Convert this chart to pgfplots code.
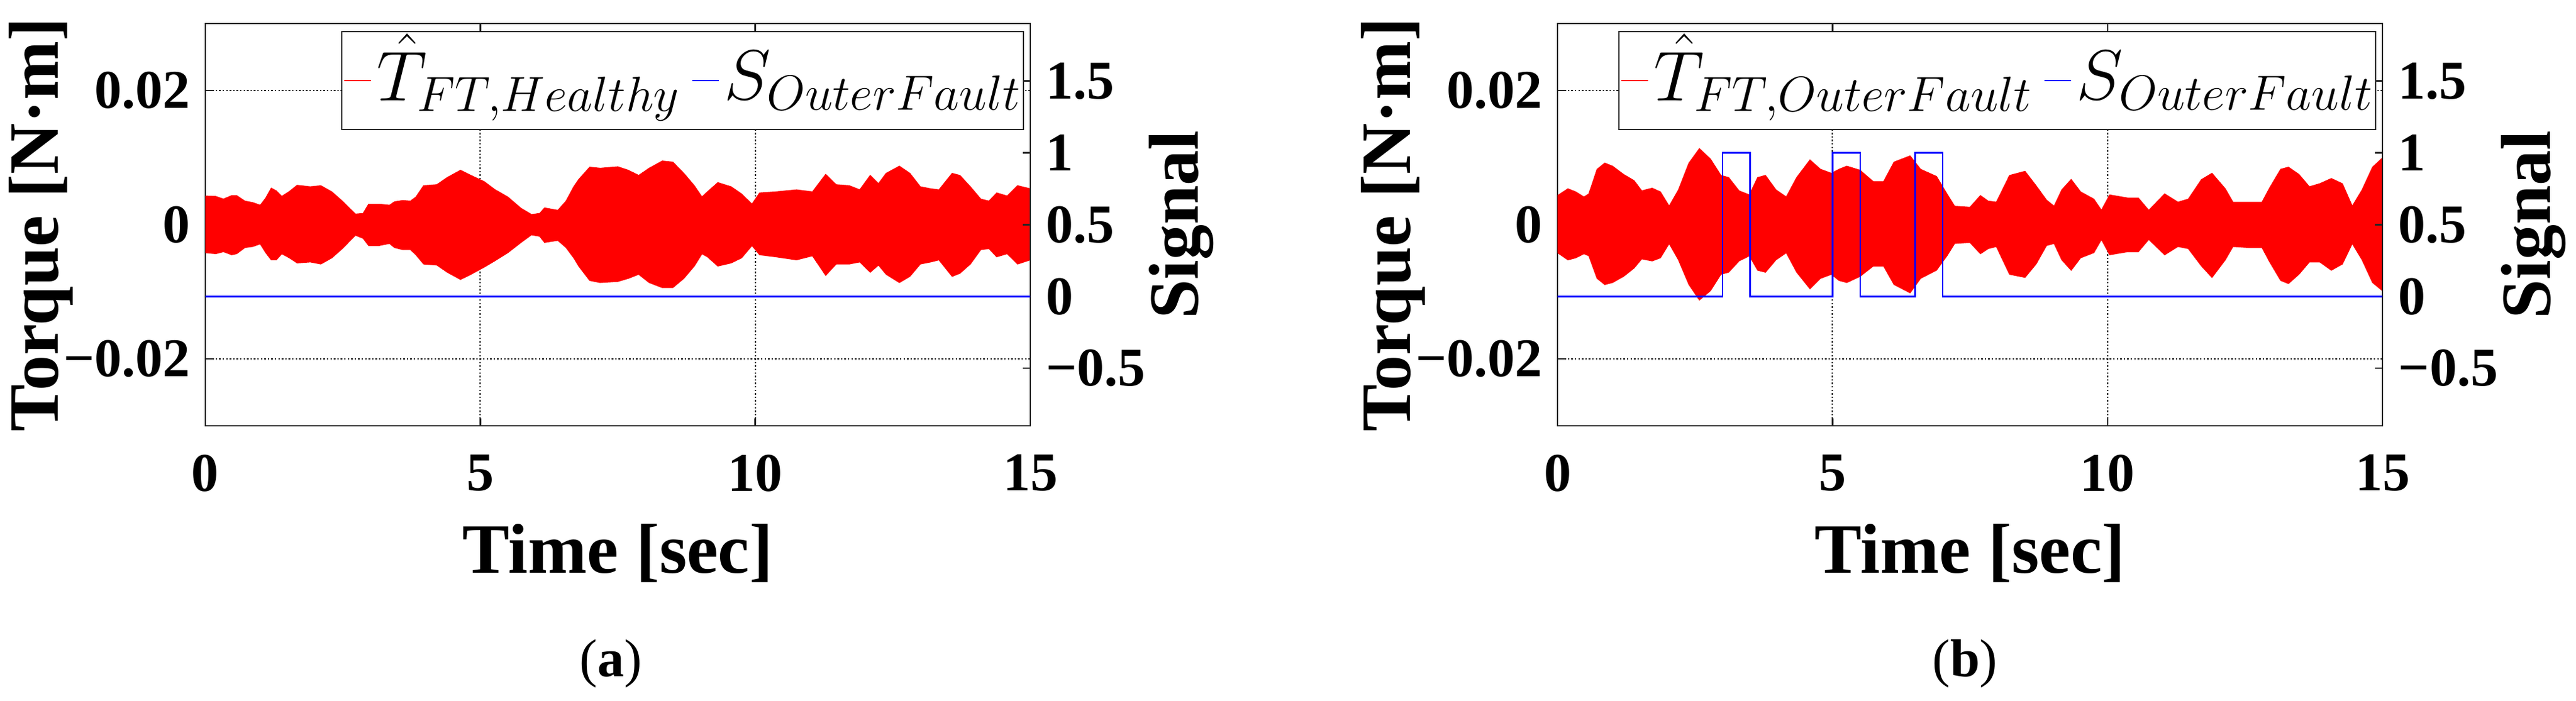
\RequirePackage{fix-cm}
\documentclass[border=0pt]{standalone}
\usepackage{fontspec}
\setmainfont{Liberation Serif}
\usepackage{pgfplots}
\pgfplotsset{compat=1.18}
\usepackage{pgfplotstable}

\newcommand{\tickfont}{\fontsize{22}{22}\selectfont\bfseries}
\newcommand{\labfont}{\fontsize{28.5}{28.5}\selectfont\bfseries}
\newcommand{\legfont}{\fontsize{28.5}{28.5}\selectfont}
\newcommand{\legstrut}{\rule[-11pt]{0pt}{37pt}}
\definecolor{axgray}{gray}{0.15}

% envelope of the torque band in (a): upper edge forward in time, lower edge backward
\pgfplotstableread{
t v
0 0.00426
0.19 0.00420
0.33 0.00380
0.48 0.00432
0.57 0.00432
0.72 0.00350
0.86 0.00328
1.0 0.00288
1.1 0.00396
1.2 0.00543
1.29 0.00503
1.39 0.00420
1.53 0.00494
1.67 0.00586
1.91 0.00564
2.1 0.00580
2.3 0.00488
2.49 0.00350
2.73 0.00156
2.87 0.00166
2.97 0.00304
3.16 0.00304
3.35 0.00288
3.44 0.00340
3.59 0.00359
3.73 0.00350
3.83 0.00411
3.97 0.00580
4.21 0.00595
4.4 0.00702
4.64 0.00810
4.83 0.00733
5.07 0.00641
5.26 0.00524
5.5 0.00411
5.74 0.00242
5.93 0.00150
6.08 0.00166
6.17 0.00248
6.41 0.00212
6.56 0.00350
6.7 0.00564
6.79 0.00672
6.99 0.00856
7.18 0.00840
7.5 0.00862
7.69 0.00810
7.88 0.00733
8.07 0.00840
8.31 0.00948
8.5 0.00932
8.7 0.00764
8.89 0.00580
9.03 0.00411
9.13 0.00488
9.32 0.00626
9.56 0.00564
9.75 0.00457
9.94 0.00304
10.08 0.00472
10.37 0.00488
10.75 0.00518
11.04 0.00488
11.28 0.00748
11.47 0.00595
11.71 0.00580
11.9 0.00518
12.09 0.00733
12.24 0.00610
12.38 0.00764
12.62 0.00871
12.81 0.00764
13.0 0.00564
13.19 0.00534
13.34 0.00518
13.58 0.00764
13.72 0.00733
13.91 0.00564
14.1 0.00380
14.25 0.00350
14.39 0.00472
14.58 0.00426
14.77 0.00580
15.0 0.00534
15.0 -0.00524
14.77 -0.00586
14.58 -0.00432
14.39 -0.00478
14.25 -0.00356
14.1 -0.00371
13.91 -0.00586
13.72 -0.00724
13.58 -0.00770
13.34 -0.00524
13.19 -0.00555
13.0 -0.00586
12.81 -0.00770
12.62 -0.00862
12.38 -0.00739
12.24 -0.00601
12.09 -0.00708
11.9 -0.00555
11.71 -0.00586
11.47 -0.00586
11.28 -0.00754
11.04 -0.00463
10.75 -0.00524
10.37 -0.00478
10.08 -0.00448
9.94 -0.00310
9.75 -0.00494
9.56 -0.00570
9.32 -0.00616
9.13 -0.00478
9.03 -0.00432
8.89 -0.00616
8.7 -0.00800
8.5 -0.00938
8.31 -0.00938
8.07 -0.00862
7.88 -0.00739
7.69 -0.00800
7.5 -0.00846
7.18 -0.00862
6.99 -0.00831
6.79 -0.00616
6.7 -0.00494
6.56 -0.00340
6.41 -0.00233
6.17 -0.00264
6.08 -0.00172
5.93 -0.00150
5.74 -0.00264
5.5 -0.00417
5.26 -0.00540
5.07 -0.00632
4.83 -0.00739
4.64 -0.00816
4.4 -0.00708
4.21 -0.00601
3.97 -0.00586
3.83 -0.00448
3.73 -0.00371
3.59 -0.00371
3.44 -0.00340
3.35 -0.00279
3.16 -0.00310
2.97 -0.00310
2.87 -0.00202
2.73 -0.00156
2.49 -0.00356
2.3 -0.00494
2.1 -0.00586
1.91 -0.00555
1.67 -0.00570
1.53 -0.00494
1.39 -0.00432
1.29 -0.00524
1.2 -0.00524
1.1 -0.00417
1.0 -0.00285
0.86 -0.00325
0.72 -0.00340
0.57 -0.00432
0.48 -0.00448
0.33 -0.00402
0.19 -0.00432
0 -0.00417
}\polyA

% envelope of the torque band in (b)
\pgfplotstableread{
t v
0 0.00432
0.19 0.00534
0.33 0.00488
0.48 0.00411
0.57 0.00457
0.72 0.00825
0.86 0.00917
1.0 0.00871
1.2 0.00748
1.39 0.00656
1.53 0.00503
1.72 0.00543
1.87 0.00488
2.03 0.00273
2.2 0.00518
2.39 0.00917
2.58 0.01132
2.78 0.00978
2.97 0.00733
3.11 0.00702
3.3 0.00503
3.49 0.00442
3.64 0.00702
3.78 0.00733
3.97 0.00518
4.16 0.00411
4.35 0.00702
4.59 0.00963
4.78 0.00825
4.98 0.00764
5.12 0.00825
5.26 0.00871
5.5 0.00810
5.74 0.00641
5.93 0.00641
6.12 0.00932
6.41 0.01024
6.6 0.00825
6.89 0.00718
7.08 0.00457
7.22 0.00273
7.5 0.00258
7.69 0.00432
7.83 0.00350
7.98 0.00334
8.22 0.00733
8.5 0.00794
8.7 0.00580
8.89 0.00365
9.03 0.00273
9.17 0.00518
9.34 0.00672
9.51 0.00488
9.75 0.00380
9.89 0.00212
10.04 0.00442
10.37 0.00396
10.56 0.00396
10.75 0.00212
11.04 0.00457
11.28 0.00334
11.47 0.00380
11.71 0.00672
11.9 0.00764
12.14 0.00534
12.28 0.00334
12.57 0.00334
12.81 0.00334
12.95 0.00549
13.15 0.00825
13.29 0.00856
13.48 0.00748
13.67 0.00564
13.86 0.00610
14.07 0.00687
14.27 0.00610
14.45 0.00273
14.63 0.00518
14.82 0.00856
15.0 0.00994
15.0 -0.00984
14.82 -0.00862
14.63 -0.00524
14.45 -0.00279
14.27 -0.00586
14.07 -0.00678
13.86 -0.00555
13.67 -0.00555
13.48 -0.00739
13.29 -0.00877
13.15 -0.00831
12.95 -0.00555
12.81 -0.00340
12.57 -0.00340
12.28 -0.00325
12.14 -0.00524
11.9 -0.00785
11.71 -0.00616
11.47 -0.00356
11.28 -0.00325
11.04 -0.00448
10.75 -0.00218
10.56 -0.00402
10.37 -0.00402
10.04 -0.00448
9.89 -0.00218
9.75 -0.00417
9.51 -0.00494
9.34 -0.00678
9.17 -0.00524
9.03 -0.00279
8.89 -0.00310
8.7 -0.00586
8.5 -0.00785
8.22 -0.00739
7.98 -0.00325
7.83 -0.00356
7.69 -0.00432
7.5 -0.00264
7.22 -0.00279
7.08 -0.00463
6.89 -0.00678
6.6 -0.00800
6.41 -0.01015
6.12 -0.00892
5.93 -0.00616
5.74 -0.00616
5.5 -0.00770
5.26 -0.00862
5.12 -0.00831
4.98 -0.00739
4.78 -0.00800
4.59 -0.00954
4.35 -0.00708
4.16 -0.00417
3.97 -0.00524
3.78 -0.00708
3.64 -0.00678
3.49 -0.00463
3.3 -0.00540
3.11 -0.00708
2.97 -0.00739
2.78 -0.00984
2.58 -0.01122
2.39 -0.00892
2.2 -0.00524
2.03 -0.00279
1.87 -0.00494
1.72 -0.00540
1.53 -0.00509
1.39 -0.00647
1.2 -0.00770
1.0 -0.00862
0.86 -0.00892
0.72 -0.00800
0.57 -0.00463
0.48 -0.00432
0.33 -0.00494
0.19 -0.00524
0 -0.00417
}\polyB

\pgfplotsset{
  common/.style={
    scale only axis, width=332.5pt, height=162.25pt,
    anchor=south west,
    xmin=0, xmax=15,
    scaled ticks=false,
    tick align=inside, major tick length=3pt,
    axis line style={axgray, line width=0.7pt},
    every tick/.style={axgray, line width=0.6pt},
    tick label style={font=\tickfont, inner sep=0pt},
  },
  leftax/.style={
    common,
    ymin=-0.03, ymax=0.03,
    xtick={0,5,10,15}, xticklabels={0,5,10,15},
    ytick={-0.02,0,0.02}, yticklabels={−0.02,0,0.02},
    ytick pos=left, yticklabel pos=left,
    xticklabel style={anchor=north, yshift=-11.5pt},
    yticklabel style={anchor=east, xshift=-6pt},
    grid=major,
    grid style={black, line width=0.55pt, dash pattern=on 0.6pt off 0.8pt},
    xlabel={Time [sec]}, ylabel={Torque [N·m]},
    every axis x label/.style={at={(axis description cs:0.5,0)}, anchor=north, yshift=-39.5pt, inner sep=0pt, font=\labfont},
    every axis y label/.style={at={(axis description cs:0,0.5)}, anchor=south, rotate=90, yshift=53pt, inner sep=0pt, font=\labfont},
  },
  rightax/.style={
    common,
    ymin=-0.9, ymax=1.9,
    axis x line=none, axis y line*=right,
    xtick=\empty,
    ytick={-0.5,0,0.5,1,1.5}, yticklabels={−0.5,0,0.5,1,1.5},
    ytick pos=right, yticklabel pos=right,
    yticklabel style={anchor=west, xshift=6.25pt},
    ylabel={Signal},
    every axis y label/.style={at={(axis description cs:1,0.5)}, anchor=south, rotate=90, yshift=-74pt, inner sep=0pt, font=\labfont},
    legend columns=2,
    legend cell align=left,
    legend image code/.code={\draw[##1, line width=0.6pt] (0pt,0pt) -- (10.75pt,0pt);},
    legend style={at={(1,1)}, anchor=north east, xshift=-2.5pt, yshift=-3pt,
      draw=axgray, line width=0.6pt, fill=white, font=\legfont,
      inner xsep=0.75pt, inner ysep=0.75pt,
      nodes={inner sep=0pt, text depth=},
      /tikz/every odd column/.append style={column sep=2pt},
      /tikz/every even column/.append style={column sep=4.25pt}},
  },
}

\begin{document}
\begin{tikzpicture}
\path[use as bounding box] (0pt,0pt) rectangle (1038.25pt,282.75pt);

% ---------- (a) ----------
\begin{axis}[leftax, at={(82.75pt,111pt)}]
  \addplot[red, fill=red, line width=0.4pt] table[x=t, y=v] {\polyA};
\end{axis}
\begin{axis}[rightax, at={(82.75pt,111pt)}]
  \addlegendimage{red}
  \addlegendentry{\legstrut$\hat{T}_{FT,Healthy}$}
  \addplot[blue, line width=0.6pt] coordinates {(0,0) (15,0)};
  \addlegendentry{\legstrut$S_{OuterFault}$}
\end{axis}

% ---------- (b) ----------
\begin{axis}[leftax, at={(627.75pt,111pt)}]
  \addplot[red, fill=red, line width=0.4pt] table[x=t, y=v] {\polyB};
\end{axis}
\begin{axis}[rightax, at={(627.75pt,111pt)}]
  \addlegendimage{red}
  \addlegendentry{\legstrut$\hat{T}_{FT,OuterFault}$}
  \addplot[blue, line width=0.6pt] coordinates {(0,0) (3,0) (3,1) (3.5,1) (3.5,0) (5,0) (5,1) (5.5,1) (5.5,0) (6.5,0) (6.5,1) (7,1) (7,0) (15,0)};
  \addlegendentry{\legstrut$S_{OuterFault}$}
\end{axis}

\node[anchor=north, inner sep=0pt, font=\fontsize{21.5}{21.5}\selectfont] at (246.25pt,25pt) {(\textbf{a})};
\node[anchor=north, inner sep=0pt, font=\fontsize{21.5}{21.5}\selectfont] at (792pt,25pt) {(\textbf{b})};
\end{tikzpicture}
\end{document}
